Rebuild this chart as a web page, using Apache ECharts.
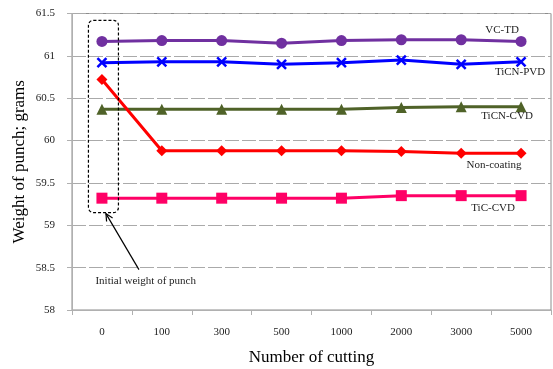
<!DOCTYPE html>
<html>
<head>
<meta charset="utf-8">
<script src="https://cdn.jsdelivr.net/npm/echarts@6/dist/echarts.min.js"></script>
<style>
  html, body { margin: 0; padding: 0; background: #fff; }
  #chart { width: 553px; height: 369px; }
</style>
</head>
<body>
<div id="chart"></div>
<script>
// Number of cuttings (category axis)
const cuttings = ['0', '100', '300', '500', '1000', '2000', '3000', '5000'];

// Punch weight in grams for each coating
const vcTd       = [61.17, 61.18, 61.18, 61.15, 61.18, 61.19, 61.19, 61.17];
const ticnPvd    = [60.92, 60.93, 60.93, 60.90, 60.92, 60.95, 60.90, 60.93];
const ticnCvd    = [60.37, 60.37, 60.37, 60.37, 60.37, 60.39, 60.40, 60.40];
const nonCoating = [60.72, 59.88, 59.88, 59.88, 59.88, 59.87, 59.85, 59.85];
const ticCvd     = [59.32, 59.32, 59.32, 59.32, 59.32, 59.35, 59.35, 59.35];

const serif = '"Liberation Serif", "DejaVu Serif", serif';
const crossPath = 'path://M0,0L10,10M10,0L0,10';

const chart = echarts.init(document.getElementById('chart'));

// Series with a text label attached to the last point
function makeSeries(name, data, color, symbol, size, offset) {
  return {
    name: name,
    type: 'line',
    data: data.map((v, i) => i === data.length - 1 ? {
      value: v,
      label: {
        show: true, formatter: name, position: 'inside', offset: offset,
        color: '#222', fontFamily: serif, fontSize: 11
      }
    } : v),
    symbol: symbol,
    symbolSize: size,
    showSymbol: true,
    lineStyle: { color: color, width: 3 },
    itemStyle: { color: color, borderColor: color, borderWidth: symbol === crossPath ? 2.5 : 0 },
    emphasis: { disabled: true },
    animation: false
  };
}

const option = {
  backgroundColor: '#fff',
  animation: false,
  grid: {
    left: 72, right: 2, top: 13.5, bottom: 59,
    outerBoundsMode: 'none',
    containLabel: false,
    show: true, borderColor: '#8c8c8c', borderWidth: 1, backgroundColor: 'transparent'
  },
  xAxis: {
    type: 'category',
    data: cuttings,
    boundaryGap: true,
    name: 'Number of cutting',
    nameLocation: 'middle',
    nameMoveOverlap: false,
    nameGap: 39,
    nameTextStyle: { fontFamily: serif, fontSize: 17, color: '#000' },
    axisLine: { lineStyle: { color: '#b0b0b0', width: 1 } },
    axisTick: { show: true, alignWithLabel: false, length: 5, lineStyle: { color: '#b0b0b0' } },
    axisLabel: { fontFamily: serif, fontSize: 11, color: '#222', margin: 17 }
  },
  yAxis: {
    type: 'value',
    min: 58, max: 61.5, interval: 0.5,
    name: 'Weight of punch; grams',
    nameLocation: 'middle',
    nameMoveOverlap: false,
    nameGap: 44,
    nameRotate: 90,
    nameTextStyle: { fontFamily: serif, fontSize: 17, color: '#000' },
    axisLine: { show: true, lineStyle: { color: '#b0b0b0', width: 1 } },
    axisTick: { show: true, length: 5, lineStyle: { color: '#b0b0b0' } },
    axisLabel: { fontFamily: serif, fontSize: 11, color: '#222', margin: 17,
      formatter: v => String(Math.round(v * 10) / 10) },
    splitLine: { show: true, lineStyle: { color: '#aaaaaa', type: [14, 3], width: 1 } }
  },
  series: [
    makeSeries('VC-TD', vcTd, '#7030A0', 'circle', 11, [-19, -11]),
    makeSeries('TiCN-PVD', ticnPvd, '#0000FF', crossPath, 9, [-1, 10]),
    makeSeries('TiCN-CVD', ticnCvd, '#4F6228', 'triangle', 11, [-14, 9]),
    makeSeries('Non-coating', nonCoating, '#FF0000', 'diamond', 11, [-27, 12]),
    makeSeries('TiC-CVD', ticCvd, '#FF0066', 'rect', 11, [-28, 12])
  ]
};

chart.setOption(option);

// Dashed outline around the first column and the pointer note
const topLeft = chart.convertToPixel({ xAxisIndex: 0, yAxisIndex: 0 }, [0, 61.42]);
const bottomRight = chart.convertToPixel({ xAxisIndex: 0, yAxisIndex: 0 }, [0, 59.15]);
const cx = topLeft[0];
const boxLeft = cx - 13.5, boxRight = cx + 16.5;
const boxTop = topLeft[1], boxBottom = bottomRight[1];
const tipX = cx + 4, tipY = boxBottom + 1;
const tailX = cx + 37, tailY = boxBottom + 57;
const ang = Math.atan2(tipY - tailY, tipX - tailX);
const ah = 8, aw = 0.45;

chart.setOption({
  graphic: [
    {
      type: 'rect',
      shape: { x: boxLeft, y: boxTop, width: boxRight - boxLeft, height: boxBottom - boxTop, r: 5 },
      style: { fill: 'none', stroke: '#000', lineWidth: 1.2, lineDash: [3, 2] },
      z: 10
    },
    {
      type: 'line',
      shape: { x1: tailX, y1: tailY, x2: tipX, y2: tipY },
      style: { stroke: '#000', lineWidth: 1.2 },
      z: 10
    },
    {
      type: 'polyline',
      shape: { points: [
        [tipX - ah * Math.cos(ang - aw), tipY - ah * Math.sin(ang - aw)],
        [tipX, tipY],
        [tipX - ah * Math.cos(ang + aw), tipY - ah * Math.sin(ang + aw)]
      ] },
      style: { stroke: '#000', lineWidth: 1.2, fill: 'none' },
      z: 10
    },
    {
      type: 'text',
      x: boxLeft + 7, y: tailY + 12,
      style: { text: 'Initial weight of punch', fontFamily: serif, fontSize: 11, fill: '#222',
        textVerticalAlign: 'middle' },
      z: 10
    }
  ]
});
</script>
</body>
</html>
